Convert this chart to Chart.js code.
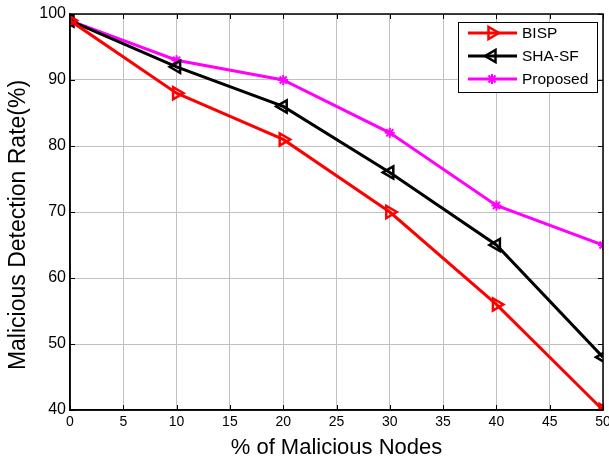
<!DOCTYPE html>
<html>
<head>
<meta charset="utf-8">
<script src="https://cdn.jsdelivr.net/npm/chart.js@4.4.1/dist/chart.umd.min.js"></script>
<style>
html,body{margin:0;padding:0;background:#fff;overflow:hidden;}
#wrap{width:609px;height:457px;position:relative;overflow:hidden;}
</style>
</head>
<body>
<div id="wrap"><canvas id="c" width="615" height="457"></canvas></div>
<script>
const xValues = [0, 10, 20, 30, 40, 50];
const bisp = [99, 88, 81, 70, 56, 40];
const shaSf = [99, 92, 86, 76, 65, 48];
const proposed = [99, 93, 90, 82, 71, 65];
const seriesLabels = ['BISP', 'SHA-SF', 'Proposed'];
const xTitle = '% of Malicious Nodes';
const yTitle = 'Malicious Detection Rate(%)';

const FONT = '"Liberation Sans", Arial, sans-serif';

function pts(arr){ return xValues.map((x,i)=>({x:x,y:arr[i]})); }

const legendPlugin = {
  id:'matlabLegend',
  afterDraw(chart){
    const ctx = chart.ctx;
    const ca = chart.chartArea;
    ctx.save();
    // axis titles
    ctx.fillStyle = '#000';
    ctx.font = '22px ' + FONT;
    ctx.textAlign = 'center';
    ctx.textBaseline = 'middle';
    ctx.fillText(xTitle, (ca.left+ca.right)/2, 448);
    ctx.font = '23px ' + FONT;
    ctx.save();
    ctx.translate(19, 225);
    ctx.rotate(-Math.PI/2);
    ctx.fillText(yTitle, 0, 0);
    ctx.restore();
    // inward ticks
    ctx.strokeStyle = '#000';
    ctx.lineWidth = 1;
    const xs = chart.scales.x, ys = chart.scales.y;
    for (let v=0; v<=50; v+=5){
      const px = Math.round(xs.getPixelForValue(v))+0.5;
      ctx.beginPath();
      ctx.moveTo(px, ca.bottom); ctx.lineTo(px, ca.bottom-5);
      ctx.moveTo(px, ca.top); ctx.lineTo(px, ca.top+5);
      ctx.stroke();
    }
    for (let v=40; v<=100; v+=10){
      const py = Math.round(ys.getPixelForValue(v))+0.5;
      ctx.beginPath();
      ctx.moveTo(ca.left, py); ctx.lineTo(ca.left+5, py);
      ctx.moveTo(ca.right, py); ctx.lineTo(ca.right-5, py);
      ctx.stroke();
    }
    // legend box
    const bx = 458, by = 22, bw = 139, bh = 70;
    ctx.fillStyle = '#fff';
    ctx.fillRect(bx, by, bw, bh);
    ctx.strokeStyle = '#000';
    ctx.lineWidth = 1;
    ctx.strokeRect(bx+0.5, by+0.5, bw, bh);
    const rows = [33, 56, 79];
    chart.data.datasets.forEach((ds, i)=>{
      const y = rows[i];
      ctx.strokeStyle = ds.borderColor;
      ctx.lineWidth = 3;
      ctx.beginPath();
      ctx.moveTo(468, y); ctx.lineTo(517, y);
      ctx.stroke();
      ctx.fillStyle = ds.pointBackgroundColor;
      ctx.strokeStyle = ds.pointBorderColor;
      ctx.lineWidth = ds.pointBorderWidth;
      Chart.helpers.drawPoint(ctx, {
        pointStyle: ds.pointStyle,
        rotation: ds.pointRotation || 0,
        radius: ds.pointRadius,
        borderWidth: ds.pointBorderWidth
      }, 492, y);
      ctx.fillStyle = '#000';
      ctx.font = '15.5px ' + FONT;
      ctx.textBaseline = 'middle';
      ctx.textAlign = 'left';
      ctx.fillText(ds.label, 522, y+1);
    });
    ctx.restore();
  }
};

new Chart(document.getElementById('c'), {
  type:'line',
  data:{
    datasets:[
      {label:seriesLabels[0], data:pts(bisp), borderColor:'#ff0000', borderWidth:3,
       pointStyle:'triangle', pointRotation:90, pointRadius:7, pointBorderWidth:2.5,
       pointBorderColor:'#ff0000', pointBackgroundColor:'rgba(0,0,0,0)', tension:0},
      {label:seriesLabels[1], data:pts(shaSf), borderColor:'#000000', borderWidth:3,
       pointStyle:'triangle', pointRotation:-90, pointRadius:7, pointBorderWidth:2.5,
       pointBorderColor:'#000000', pointBackgroundColor:'rgba(0,0,0,0)', tension:0},
      {label:seriesLabels[2], data:pts(proposed), borderColor:'#ff00ff', borderWidth:3,
       pointStyle:'star', pointRadius:5, pointBorderWidth:2,
       pointBorderColor:'#ff00ff', pointBackgroundColor:'#ff00ff', tension:0}
    ]
  },
  options:{
    responsive:false,
    animation:false,
    events:[],
    layout:{padding:{top:14, right:12, left:0, bottom:0}},
    plugins:{legend:{display:false}, tooltip:{enabled:false}},
    scales:{
      x:{type:'linear', min:0, max:50,
         ticks:{stepSize:5, color:'#000', font:{family:FONT, size:14}, padding:4, maxRotation:0, autoSkip:false},
         grid:{color:'#c0c0c0', lineWidth:1, drawTicks:false},
         border:{color:'#000', width:1.5},
         title:{display:false},
         afterFit(s){ s.height = 47; }
      },
      y:{type:'linear', min:40, max:100,
         ticks:{stepSize:10, color:'#000', font:{family:FONT, size:16}, padding:4},
         grid:{color:'#c0c0c0', lineWidth:1, drawTicks:false},
         border:{color:'#000', width:1.5},
         title:{display:false},
         afterFit(s){ s.width = 70; }
      }
    }
  },
  plugins:[legendPlugin, {
    id:'frame',
    afterDatasetsDraw(chart){
      const ctx = chart.ctx, ca = chart.chartArea;
      ctx.save();
      ctx.strokeStyle = '#000'; ctx.lineWidth = 1.5;
      ctx.strokeRect(ca.left, ca.top, ca.right-ca.left, ca.bottom-ca.top);
      ctx.restore();
    }
  }]
});
</script>
</body>
</html>
